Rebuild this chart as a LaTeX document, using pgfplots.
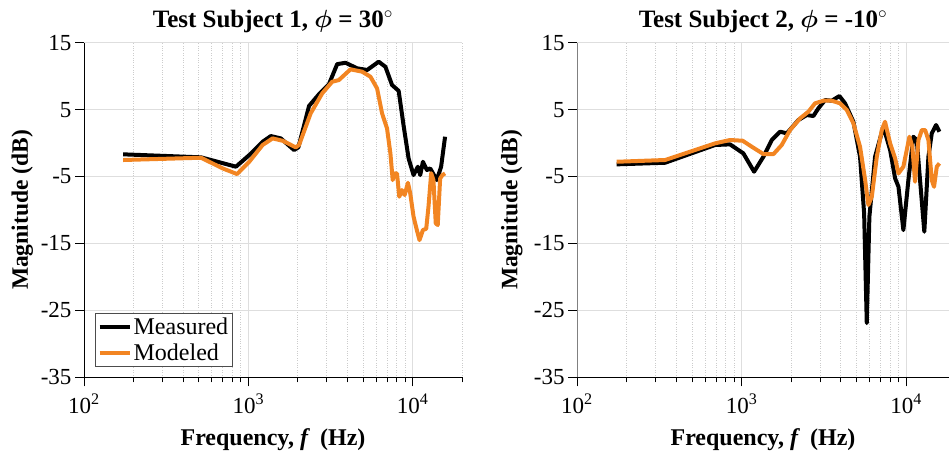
\documentclass[border=0pt]{standalone}
\usepackage{fontspec}
\setmainfont{Liberation Serif}
\usepackage{pgfplots}
\pgfplotsset{compat=1.18}
\definecolor{morange}{RGB}{242,133,34}
\definecolor{gridc}{RGB}{222,222,222}

\begin{document}
\begin{tikzpicture}
\useasboundingbox (0,0) rectangle (949pt,458pt);

\begin{semilogxaxis}[at={(84pt,80.7pt)}, anchor=south west,
  scale only axis, width=378pt, height=334.6pt,
  xmin=100, xmax=20000, ymin=-35, ymax=15,
  axis lines=left, axis line style={-, line width=0.8pt},
  tick align=outside, major tick length=9pt, minor tick length=5pt,
  ytick={-35,-25,-15,-5,5,15}, yticklabels={-35,-25,-15,-5,5,15},
  xtick={100,1000,10000},
  xticklabels={10\textsuperscript{2},10\textsuperscript{3},10\textsuperscript{4}},
  minor xtick={200,300,400,500,600,700,800,900,2000,3000,4000,5000,6000,7000,8000,9000,20000},
  ymajorgrids, xmajorgrids, xminorgrids,
  major grid style={gridc, line width=0.8pt},
  minor grid style={black!20, dotted, line width=0.7pt},
  major tick style={black, line width=0.8pt},
  minor tick style={black, line width=0.8pt},
  ticklabel style={font=\fontsize{23}{26}\selectfont},
  xticklabel style={yshift=-4pt},
  title style={font=\fontsize{25}{28}\selectfont\bfseries, yshift=0pt},
  xlabel={\textbf{Frequency, \textit{f}\, (Hz)}},
  xlabel style={font=\fontsize{24}{27}\selectfont, at={(axis description cs:0.5,-0.187)}, anchor=center},
  ylabel={\bfseries Magnitude (dB)},
  ylabel style={font=\fontsize{23.5}{26}\selectfont, anchor=center, at={(axis description cs:-0.163,0.5)}},
  clip=false,
  title={Test Subject 1, {\boldmath$\phi$} = 30$^{\circ}$},
  legend style={at={(axis cs:117,-33.4)}, anchor=south west,
    font=\fontsize{24}{27}\selectfont, draw=black!70, line width=0.8pt,
    inner sep=2pt, fill=white, row sep=4pt},
  legend cell align=left,
  legend image code/.code={\draw[#1] (0pt,0pt) -- (30pt,0pt);},
]
\addplot[black, line width=4pt, line join=round] coordinates {
(173,-1.68) (516,-2.13) (841,-3.53) (1014,-1.79) (1222,0.2) (1372,1.05)
(1577,0.7) (1900,-1.04) (2018,-0.64) (2344,5.55) (2694,7.3) (3097,8.8)
(3477,11.8) (3908,12.0) (4600,11.17) (5290,10.92) (6222,12.16) (6837,11.4)
(7500,8.68) (8230,7.8) (8820,2.6) (9460,-2.3) (10140,-4.78) (10770,-3.53)
(11130,-4.78) (11560,-2.79) (12230,-4.03) (12800,-3.78) (14040,-5.53)
(14920,-3.53) (15770,0.95)
};
\addlegendentry{Measured}
\addplot[morange, line width=4pt, line join=round] coordinates {
(173,-2.53) (516,-2.19) (698,-3.78) (854,-4.63) (1014,-2.79) (1222,-0.29)
(1406,0.7) (1616,0.35) (1945,-0.64) (2037,-0.29) (2398,4.45) (2820,7.44)
(3243,9.17) (3560,9.42) (4190,11.02) (4930,10.67) (5540,9.92) (6080,8.18)
(6520,4.45) (6990,2.2) (7330,-1.54) (7570,-5.53) (7780,-4.53) (8040,-4.53)
(8300,-8.02) (8610,-7.02) (8950,-7.77) (9370,-5.93) (9680,-7.52) (10140,-11.0)
(10620,-13.0) (11020,-14.5) (11560,-13.0) (12110,-12.8) (12500,-9.5)
(12980,-4.5) (13400,-5.53) (13840,-12.0) (14230,-12.25) (14720,-5.28)
(15200,-4.78) (15770,-4.53)
};
\addlegendentry{Modeled}
\end{semilogxaxis}

\begin{semilogxaxis}[at={(577pt,80.7pt)}, anchor=south west,
  scale only axis, width=372pt, height=334.6pt,
  xmin=100, xmax=18240, ymin=-35, ymax=15,
  axis lines=left, axis line style={-, line width=0.8pt},
  y axis line style={draw=black!50},
  tick align=outside, major tick length=9pt, minor tick length=5pt,
  ytick={-35,-25,-15,-5,5,15}, yticklabels={-35,-25,-15,-5,5,15},
  xtick={100,1000,10000},
  xticklabels={10\textsuperscript{2},10\textsuperscript{3},10\textsuperscript{4}},
  minor xtick={200,300,400,500,600,700,800,900,2000,3000,4000,5000,6000,7000,8000,9000},
  ymajorgrids, xmajorgrids, xminorgrids,
  major grid style={gridc, line width=0.8pt},
  minor grid style={black!20, dotted, line width=0.7pt},
  major tick style={black, line width=0.8pt},
  minor tick style={black, line width=0.8pt},
  ticklabel style={font=\fontsize{23}{26}\selectfont},
  xticklabel style={yshift=-4pt},
  title style={font=\fontsize{25}{28}\selectfont\bfseries, yshift=0pt},
  xlabel={\textbf{Frequency, \textit{f}\, (Hz)}},
  xlabel style={font=\fontsize{24}{27}\selectfont, at={(axis description cs:0.5,-0.187)}, anchor=center},
  ylabel={\bfseries Magnitude (dB)},
  ylabel style={font=\fontsize{23.5}{26}\selectfont, anchor=center, at={(axis description cs:-0.175,0.5)}},
  clip=false,
  title={Test Subject 2, {\boldmath$\phi$} = -10$^{\circ}$},
]
\addplot[black, line width=4pt, line join=round] coordinates {
(174,-3.18) (343,-2.94) (690,-0.29) (851,-0.19) (1026,-1.54) (1192,-4.28)
(1358,-2.04) (1527,0.46) (1715,1.7) (1884,1.45) (2215,3.44) (2490,4.19)
(2733,4.04) (2930,5.19) (3220,6.43) (3535,6.33) (3935,7.03) (4257,5.94)
(4785,3.19) (5250,-2.04) (5560,-10.5) (5770,-26.9) (5985,-11.0) (6480,-2.04)
(7280,2.45) (8000,-1.04) (8580,-5.28) (8990,-6.53) (9630,-13.0) (10330,-5.53)
(11070,0.95) (11610,0.46) (12160,-5.53) (12910,-13.25) (13670,-2.04)
(14330,1.45) (15220,2.7) (15950,1.7)
};
\addplot[morange, line width=4pt, line join=round] coordinates {
(174,-2.79) (343,-2.53) (690,-0.04) (851,0.46) (1016,0.35) (1153,-0.54)
(1358,-1.64) (1564,-1.64) (1755,-0.29) (1972,1.95) (2268,3.69) (2548,4.69)
(2797,5.94) (3143,6.33) (3535,6.33) (3975,5.94) (4366,4.94) (4785,2.95)
(5250,-0.54) (5640,-5.53) (5900,-9.26) (6190,-8.02) (6640,-2.04) (7120,1.95)
(7450,3.19) (8000,-0.04) (8580,-2.29) (8990,-4.53) (9630,-3.53) (10480,0.95)
(10920,-0.54) (11340,-5.78) (11890,0.46) (12470,1.95) (13060,1.95)
(13670,0.46) (14330,-5.53) (14790,-6.53) (15370,-3.53) (15950,-3.03)
};
\end{semilogxaxis}
\end{tikzpicture}
\end{document}
